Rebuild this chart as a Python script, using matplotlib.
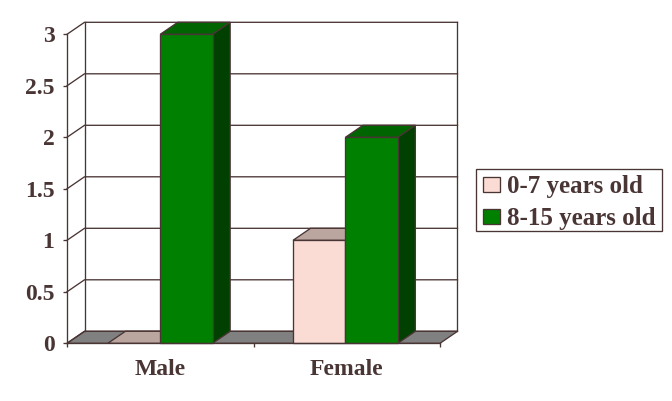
import matplotlib.pyplot as plt
from matplotlib.patches import Polygon, Patch, Rectangle

categories = ['Male', 'Female']
series_names = ['0-7 years old', '8-15 years old']
young = [0, 1]
old = [3, 2]
y_ticks = [0, 0.5, 1, 1.5, 2, 2.5, 3]
y_labels = ['0', '0.5', '1', '1.5', '2', '2.5', '3']

INK = '#4a3535'
LW = 0.95
plt.rcParams['font.family'] = 'Liberation Serif'
plt.rcParams['font.weight'] = 'bold'

W, H = 672, 401
L, R, B, T = 67, 440, 343.3, 34.3
fig = plt.figure(figsize=(W / 100, H / 100), dpi=100, facecolor='white')
ax = fig.add_axes([L / W, 1 - B / H, (R - L) / W, (B - T) / H])
ax.set_xlim(0, 2)
ax.set_ylim(0, 3)
ax.patch.set_visible(False)

# depth of the fake 3d box, in data units
dx = 17.5 / ((R - L) / 2)
dy = 12 / ((B - T) / 3)
bar_w = 0.281


def poly(pts, face, z, edge=INK):
    ax.add_patch(Polygon(pts, closed=True, facecolor=face, edgecolor=edge,
                         linewidth=LW, zorder=z, clip_on=False))


def bar3d(x0, val, front, top, side, z):
    x1 = x0 + bar_w
    poly([(x0, val), (x0 + dx, val + dy), (x1 + dx, val + dy), (x1, val)], top, z)
    poly([(x1, 0), (x1 + dx, dy), (x1 + dx, val + dy), (x1, val)], side, z)
    if val > 0:
        poly([(x0, 0), (x1, 0), (x1, val), (x0, val)], front, z)


# floor and back wall
poly([(0, 0), (dx, dy), (2 + dx, dy), (2, 0)], '#808080', 1)
for v in y_ticks:
    ax.plot([0, dx, 2 + dx], [v, v + dy, v + dy], color=INK, lw=LW, zorder=1.5,
            clip_on=False)
ax.plot([dx, dx], [dy, 3 + dy], color=INK, lw=LW, zorder=1.5, clip_on=False)
ax.plot([2 + dx, 2 + dx], [dy, 3 + dy], color=INK, lw=LW, zorder=1.5, clip_on=False)

for i in range(len(categories)):
    c = i + 0.5 - 0.007 * i
    bar3d(c - bar_w, young[i], '#fadcd4', '#bba59f', '#8f7a75', 2 + i)
    bar3d(c, old[i], '#008000', '#006400', '#004000', 2.5 + i)

for s in ['top', 'right']:
    ax.spines[s].set_visible(False)
for s in ['left', 'bottom']:
    ax.spines[s].set_color(INK)
    ax.spines[s].set_linewidth(LW)
    ax.spines[s].set_zorder(6)

ax.set_yticks(y_ticks)
ax.set_yticklabels(y_labels, fontsize=17, color=INK)
ax.tick_params(axis='y', length=3, width=LW, color=INK, pad=6)
ax.set_xticks([0, 1, 2])
ax.set_xticklabels([])
ax.set_xticks([0.5, 1.5], minor=True)
ax.set_xticklabels(categories, minor=True, fontsize=17, color=INK)
ax.tick_params(axis='x', which='major', length=3, width=LW, color=INK)
ax.tick_params(axis='x', which='minor', length=0, pad=11.5)

# legend box drawn apart, its padding is wider than tall
fig.add_artist(Rectangle((475.7 / W, 1 - 231 / H), 186.6 / W, 61.7 / H,
                         transform=fig.transFigure, facecolor='white',
                         edgecolor=INK, linewidth=LW))
handles = [Patch(facecolor='#fadcd4', edgecolor=INK, linewidth=LW),
           Patch(facecolor='#008000', edgecolor=INK, linewidth=LW)]
leg = fig.legend(handles, series_names, loc='center left',
                 bbox_to_anchor=(483 / W, 1 - 203 / H), fontsize=18,
                 labelcolor=INK, frameon=False,
                 handlelength=0.68, handleheight=0.58, handletextpad=0.27,
                 labelspacing=0.36, borderpad=0, borderaxespad=0)

fig.savefig('out.png', dpi=100, facecolor='white')
